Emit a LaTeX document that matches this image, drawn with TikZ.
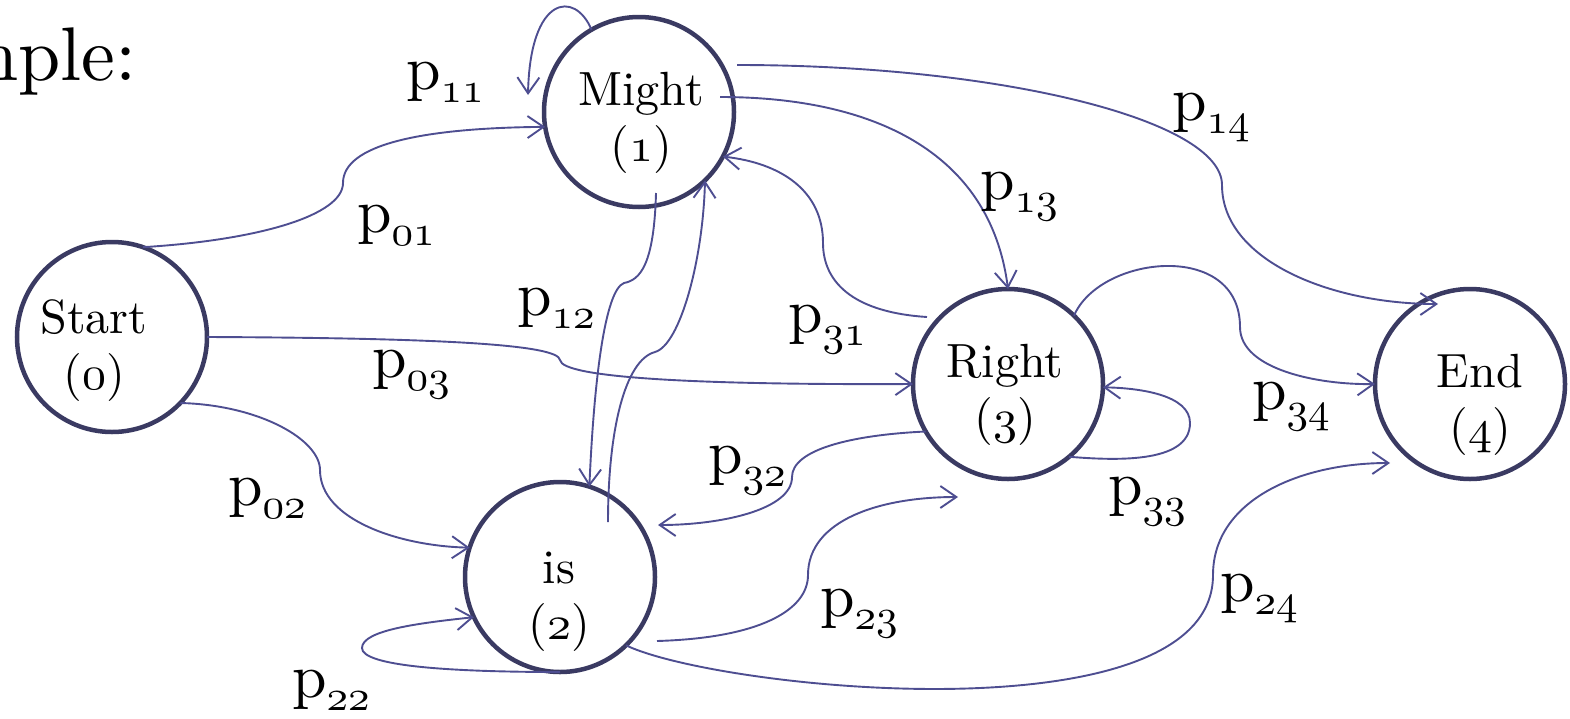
\documentclass[tikz,border=0pt]{standalone}
\usepackage{fontspec}
\setmainfont{lmroman10-regular.otf}
\usetikzlibrary{arrows.meta,calc}
\definecolor{ringcol}{RGB}{58,58,98}
\definecolor{edgecol}{RGB}{78,78,145}
\DeclareFontFamily{OML}{oscmm}{\skewchar\font'177}
\DeclareFontShape{OML}{oscmm}{m}{it}{<-> cmmi10}{}
\newcommand\osn[1]{{\fontencoding{OML}\fontfamily{oscmm}\fontseries{m}\fontshape{it}\selectfont #1}}
\newcommand\pl[1]{p\raisebox{-13pt}{\fontsize{43}{43}\selectfont\osn{#1}}}
\tikzset{
  state/.style={circle,draw=ringcol,line width=4.5pt,minimum size=190pt,inner sep=0pt,outer sep=0pt},
  stxt/.style={anchor=base,inner sep=0pt,font=\fontsize{48}{56}\selectfont},
  plab/.style={anchor=base west,inner sep=0pt,font=\fontsize{62}{62}\selectfont},
  edge/.style={draw=edgecol,line width=1.9pt,-{Straight Barb[length=16pt,width=22pt]}}
}
\newcommand\twol[2]{\begin{tabular}[t]{@{}c@{}}#1\\#2\end{tabular}}
\begin{document}
\begin{tikzpicture}[x=1pt,y=-1pt]
\useasboundingbox (0,0) rectangle (1570,718);
% title fragment
\node[anchor=base east,inner sep=0pt,font=\fontsize{76}{76}\selectfont] (title) at (137,80) {nple:};
% states
\node[state] (S) at (112,337) {};
\node[state] (M) at (639,112) {};
\node[state] (I) at (560,577) {};
\node[state] (R) at (1008,384) {};
\node[state] (E) at (1470,384) {};
\node[stxt] (St) at (94,333) {\twol{Start}{(\osn{0})}};
\node[stxt] (Mt) at (641,105) {\twol{Might}{(\osn{1})}};
\node[stxt] (It) at (559,583) {\twol{is}{(\osn{2})}};
\node[stxt] (Rt) at (1005,377) {\twol{Right}{(\osn{3})}};
\node[stxt] (Et) at (1480,387) {\twol{End}{(\osn{4})}};
% edges
\draw[edge] (S.71) .. controls (260,240) and (343,215) .. (343,183) .. controls (343,145) and (420,128) .. (M.189);
\coordinate (m11) at (528,95);
\draw[edge] (M.120) .. controls (575,-10) and (530,-5) .. (m11);
\draw[edge] ($(M)+(17,81)$) .. controls (654,265) and (640,280) .. (624,283) .. controls (605,290) and (594,380) .. (I.72);
\draw[edge] ($(I)+(48,-55)$) .. controls (608,430) and (625,360) .. (655,352) .. controls (680,345) and (703,260) .. (M.-46);
\draw[edge] ($(M)+(81,-15)$) .. controls (870,97) and (990,150) .. (R.90);
\draw[edge] ($(M)+(98,-47)$) .. controls (1000,65) and (1222,120) .. (1222,185) .. controls (1222,260) and (1330,304) .. ($(E)+(-32,-80)$);
\draw[edge] ($(R)+(-81,-67)$) .. controls (850,312) and (823,280) .. (823,243) .. controls (823,190) and (780,163) .. (M.-28);
\draw[edge] (S.0) .. controls (450,338) and (558,345) .. (560,360) .. controls (562,378) and (700,385) .. (R.180);
\draw[edge] (S.-44) .. controls (260,405) and (320,440) .. (320,470) .. controls (320,520) and (400,546) .. (I.162);
\draw[edge] (I.-90) .. controls (440,672) and (362,665) .. (362,648) .. controls (362,630) and (420,623) .. (I.205);
\draw[edge] ($(I)+(97,64)$) .. controls (760,638) and (808,610) .. (808,575) .. controls (808,520) and (880,497) .. ($(R)+(-50,113)$);
\draw[edge] (R.210) .. controls (850,435) and (792,450) .. (792,477) .. controls (792,510) and (720,525) .. ($(I)+(98,-52)$);
\draw[edge] (R.-50) .. controls (1110,460) and (1190,465) .. (1190,423) .. controls (1190,395) and (1140,388) .. (R.-2);
\draw[edge] (R.46) .. controls (1100,255) and (1240,240) .. (1240,327) .. controls (1240,370) and (1320,385) .. (E.180);
\draw[edge] (I.-46) .. controls (720,690) and (1213,740) .. (1213,575) .. controls (1213,500) and (1300,463) .. ($(E)+(-80,79)$);
% labels
\node[plab] (l01) at (357,232) {\pl{01}};
\node[plab] (l11) at (406,89) {\pl{11}};
\node[plab] (l12) at (517,315) {\pl{12}};
\node[plab] (l31) at (788,332) {\pl{31}};
\node[plab] (l03) at (372,377) {\pl{03}};
\node[plab] (l02) at (228,505) {\pl{02}};
\node[plab] (l13) at (980,199) {\pl{13}};
\node[plab] (l14) at (1172,120) {\pl{14}};
\node[plab] (l34) at (1252,409) {\pl{34}};
\node[plab] (l32) at (708,473) {\pl{32}};
\node[plab] (l23) at (820,616) {\pl{23}};
\node[plab] (l33) at (1108,504) {\pl{33}};
\node[plab] (l24) at (1220,601) {\pl{24}};
\node[plab] (l22) at (292,697) {\pl{22}};
\end{tikzpicture}
\end{document}
